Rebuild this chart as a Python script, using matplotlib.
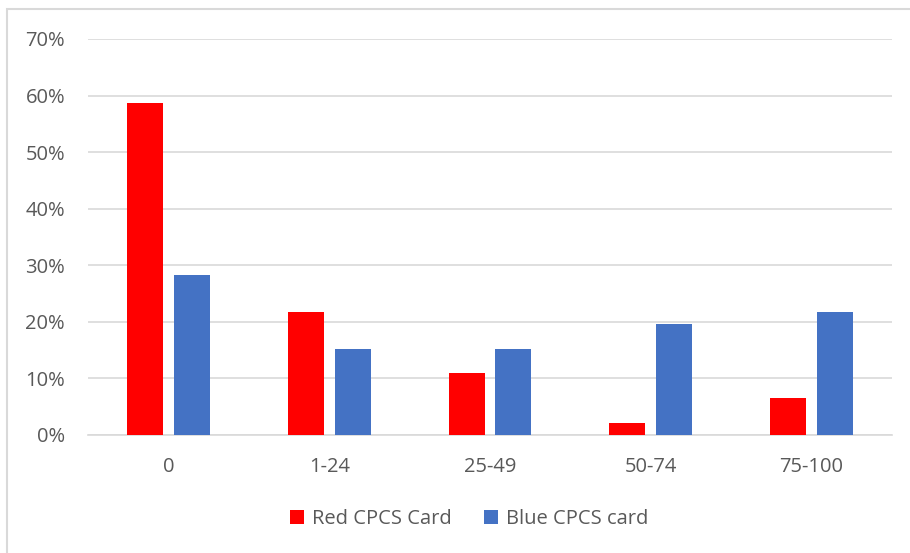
import matplotlib
matplotlib.use("Agg")
import matplotlib.pyplot as plt
from matplotlib.patches import Rectangle
import numpy as np

categories = ["0", "1-24", "25-49", "50-74", "75-100"]
red_values = [58.7, 21.7, 10.9, 2.2, 6.5]
blue_values = [28.3, 15.2, 15.2, 19.6, 21.7]
series_names = ["Red CPCS Card", "Blue CPCS card"]
yticks = [0, 10, 20, 30, 40, 50, 60, 70]

W, H = 910, 553
fig = plt.figure(figsize=(W / 100, H / 100), dpi=100)
plt.rcParams['font.family'] = ['Open Sans', 'DejaVu Sans']
txt = '#595959'

# outer border
fig.patches.append(Rectangle((7 / W, -0.1), 1.2, (H - 9) / H + 0.1, transform=fig.transFigure,
                             fill=False, edgecolor='#d9d9d9', linewidth=1.5))

ax = fig.add_axes([88 / W, 1 - 435 / H, (892 - 88) / W, (435 - 39) / H])
x = np.arange(len(categories))
bw = 0.224
gap = 0.068
off = (bw + gap) / 2
ax.bar(x - off, red_values, bw, color='#ff0000', label=series_names[0], zorder=3)
ax.bar(x + off, blue_values, bw, color='#4472c4', label=series_names[1], zorder=3)

ax.set_xlim(-0.5, len(categories) - 0.5)
ax.set_ylim(0, 70)
ax.set_yticks(yticks)
ax.set_yticklabels([f"{v}%" for v in yticks])
ax.set_xticks(x)
ax.set_xticklabels(categories)
ax.tick_params(axis='both', length=0, labelsize=14.5, colors=txt)
ax.tick_params(axis='y', pad=16.5)
ax.tick_params(axis='x', pad=16)
ax.grid(axis='y', color='#d9d9d9', linewidth=1.2, zorder=0)
for s in ['top', 'right', 'left']:
    ax.spines[s].set_visible(False)
ax.spines['bottom'].set_color('#d9d9d9')
ax.spines['bottom'].set_linewidth(1.2)

leg = fig.legend(loc='center', bbox_to_anchor=(469 / W, 1 - 519 / H), ncol=2, frameon=False,
                 fontsize=14.5, handlelength=0.7, handleheight=0.7, handletextpad=0.4,
                 columnspacing=1.6, labelcolor=txt)

fig.savefig("out.png", dpi=100)
